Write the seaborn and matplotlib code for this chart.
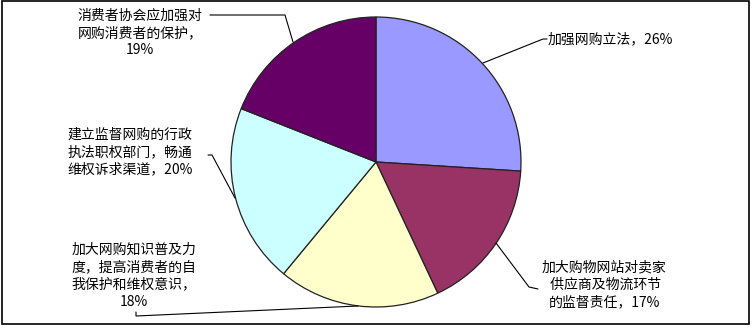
import matplotlib
matplotlib.use("Agg")
import matplotlib.pyplot as plt
import seaborn as sns
from matplotlib.patches import Rectangle

sns.set_style("white")
plt.rcParams['font.family'] = ['Noto Sans CJK SC', 'DejaVu Sans']

categories = ["加强网购立法", "加大购物网站对卖家供应商及物流环节的监督责任",
              "加大网购知识普及力度，提高消费者的自我保护和维权意识",
              "建立监督网购的行政执法职权部门，畅通维权诉求渠道",
              "消费者协会应加强对网购消费者的保护"]
values = [26, 17, 18, 20, 19]
label_texts = ["加强网购立法，26%",
               "加大购物网站对卖家\n 供应商及物流环节\n的监督责任，17%",
               "加大网购知识普及力\n度，提高消费者的自\n我保护和维权意识，\n18%",
               "建立监督网购的行政\n执法职权部门，畅通\n维权诉求渠道，20%",
               "消费者协会应加强对\n网购消费者的保护，\n19%"]
colors = ["#9999FF", "#993366", "#FFFFCC", "#CCFFFF", "#660066"]

W, H = 752, 326
fig = plt.figure(figsize=(W / 100, H / 100), dpi=100)
ax = fig.add_axes([0, 0, 1, 1])
ax.set_xlim(0, W)
ax.set_ylim(0, H)
ax.set_aspect('equal')
ax.axis('off')

def py(y):
    return H - y

ax.pie(values, colors=colors, startangle=90, counterclock=False,
       center=(376, py(162)), radius=145, frame=True,
       wedgeprops=dict(edgecolor="#222222", linewidth=0.9))
ax.set_xlim(0, W)
ax.set_ylim(0, H)
ax.axis('off')

# labels: (text x, text y (pixel), ha, leader points in pixels)
specs = [
    (548, 39, 'left', [(483, 63), (543, 39), (547, 39)]),
    (604, 285, 'center', [(496, 243), (529, 287), (538, 289)]),
    (134, 276, 'center', [(136, 312), (136, 316), (358, 306)]),
    (130, 152, 'center', [(208, 155), (212, 155), (235, 198)]),
    (140, 33, 'center', [(210, 15), (285, 15), (293, 42)]),
]
for txt, (tx, ty, ha, pts) in zip(label_texts, specs):
    ax.text(tx, py(ty), txt, ha=ha, va='center', fontsize=10,
            linespacing=1.3, color='black')
    ax.plot([p[0] for p in pts], [py(p[1]) for p in pts], color='black', lw=0.8)

ax.add_patch(Rectangle((2, py(324)), 747, 323, fill=False, edgecolor='black', lw=1.2))

fig.savefig("out.png", dpi=100)
